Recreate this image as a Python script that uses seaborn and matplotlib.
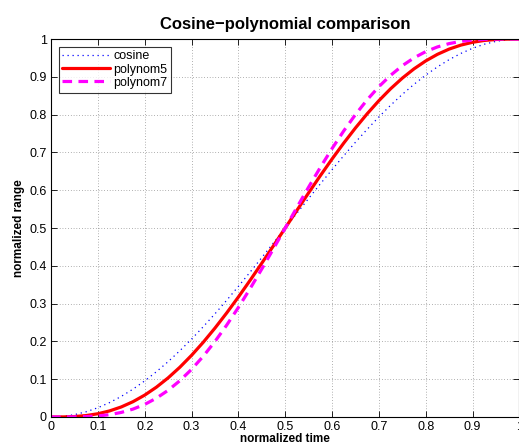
import matplotlib
matplotlib.use("Agg")
import matplotlib.pyplot as plt
import seaborn as sns
import pandas as pd

# normalized time samples
t = [0.0, 0.025, 0.05, 0.075, 0.1, 0.125, 0.15, 0.175, 0.2, 0.225, 0.25,
     0.275, 0.3, 0.325, 0.35, 0.375, 0.4, 0.425, 0.45, 0.475, 0.5,
     0.525, 0.55, 0.575, 0.6, 0.625, 0.65, 0.675, 0.7, 0.725, 0.75,
     0.775, 0.8, 0.825, 0.85, 0.875, 0.9, 0.925, 0.95, 0.975, 1.0]

cosine = [0.0, 0.0015, 0.0062, 0.0138, 0.0245, 0.0381, 0.0545, 0.0737, 0.0955, 0.1198, 0.1464,
          0.1753, 0.2061, 0.2388, 0.2730, 0.3087, 0.3455, 0.3833, 0.4218, 0.4608, 0.5,
          0.5392, 0.5782, 0.6167, 0.6545, 0.6913, 0.7270, 0.7612, 0.7939, 0.8247, 0.8536,
          0.8802, 0.9045, 0.9263, 0.9455, 0.9619, 0.9755, 0.9862, 0.9938, 0.9985, 1.0]
polynom5 = [0.0, 0.0002, 0.0012, 0.0038, 0.0086, 0.0161, 0.0266, 0.0405, 0.0579, 0.0789, 0.1035,
            0.1316, 0.1631, 0.1977, 0.2352, 0.2752, 0.3174, 0.3615, 0.4069, 0.4532, 0.5,
            0.5468, 0.5931, 0.6385, 0.6826, 0.7248, 0.7648, 0.8023, 0.8369, 0.8684, 0.8965,
            0.9211, 0.9421, 0.9595, 0.9734, 0.9839, 0.9914, 0.9962, 0.9988, 0.9998, 1.0]
polynom7 = [0.0, 0.0000, 0.0002, 0.0009, 0.0027, 0.0062, 0.0121, 0.0209, 0.0333, 0.0498, 0.0706,
            0.0960, 0.1260, 0.1607, 0.1998, 0.2430, 0.2898, 0.3396, 0.3917, 0.4454, 0.5,
            0.5546, 0.6083, 0.6604, 0.7102, 0.7570, 0.8002, 0.8393, 0.8740, 0.9040, 0.9294,
            0.9502, 0.9667, 0.9791, 0.9879, 0.9938, 0.9973, 0.9991, 0.9998, 1.0000, 1.0]

df = pd.DataFrame({"t": t, "cosine": cosine, "polynom5": polynom5, "polynom7": polynom7})

sns.set_style("white", {"text.color": "black", "axes.labelcolor": "black",
                        "xtick.color": "black", "ytick.color": "black"})
plt.rcParams['font.family'] = ['Liberation Sans', 'DejaVu Sans']

fig = plt.figure(figsize=(5.19, 4.48), dpi=100)
ax = fig.add_axes([0.0983, 0.0692, 0.9025, 0.8437])

sns.lineplot(data=df, x="t", y="cosine", ax=ax, color="blue", linewidth=0.9,
             linestyle=(0, (1, 3)), label="cosine")
sns.lineplot(data=df, x="t", y="polynom5", ax=ax, color="red", linewidth=2.3,
             label="polynom5")
sns.lineplot(data=df, x="t", y="polynom7", ax=ax, color="magenta", linewidth=2.3,
             linestyle=(0, (3, 2)), label="polynom7")

ax.set_xlim(0, 1)
ax.set_ylim(0, 1)
ticks = [0, 0.1, 0.2, 0.3, 0.4, 0.5, 0.6, 0.7, 0.8, 0.9, 1]
tick_labels = ["0", "0.1", "0.2", "0.3", "0.4", "0.5", "0.6", "0.7", "0.8", "0.9", "1"]
ax.set_xticks(ticks)
ax.set_xticklabels(tick_labels)
ax.set_yticks(ticks)
ax.set_yticklabels(tick_labels)
ax.tick_params(direction="in", length=4, width=0.6, labelsize=9, color="black",
               labelcolor="black", top=True, right=True, bottom=True, left=True, pad=3)
ax.grid(True, color="black", linestyle=(0, (1, 3)), linewidth=0.5, alpha=0.6)
for s in ax.spines.values():
    s.set_color("black")
    s.set_linewidth(0.8)

ax.set_title("Cosine\u2212polynomial comparison", fontsize=12, fontweight="bold", pad=7,
             color="black")
ax.set_xlabel("normalized time", fontsize=8.5, fontweight="bold", labelpad=0, color="black")
ax.set_ylabel("normalized range", fontsize=8.5, fontweight="bold", labelpad=3, color="black")

leg = ax.legend(loc="upper left", fontsize=9, frameon=True, fancybox=False,
                edgecolor="black", borderpad=0.3, labelspacing=0.1,
                handlelength=3.8, handletextpad=0.3, borderaxespad=0.6)
leg.get_frame().set_linewidth(0.8)
for txt in leg.get_texts():
    txt.set_color("black")

fig.savefig("out.png", dpi=100)
